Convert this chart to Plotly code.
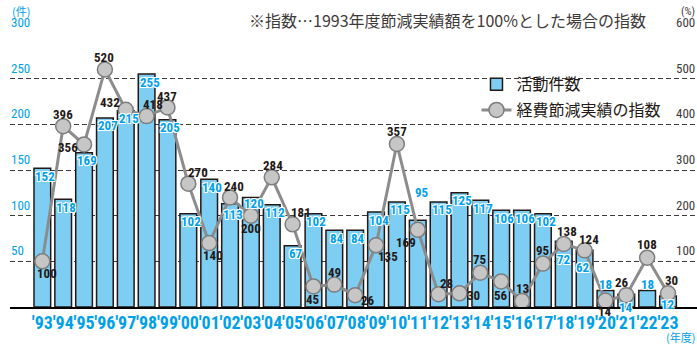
import plotly.graph_objects as go

# Fiscal years, activity counts (bars) and cost-saving index (line, 1993 = 100%)
years = ["′93", "′94", "′95", "′96", "′97", "′98", "′99", "′00", "′01", "′02",
         "′03", "′04", "′05", "′06", "′07", "′08", "′09", "′10", "′11", "′12",
         "′13", "′14", "′15", "′16", "′17", "′18", "′19", "′20", "′21", "′22", "′23"]
activity_counts = [152, 118, 169, 207, 215, 255, 205, 102, 140, 113,
                   120, 112, 67, 102, 84, 84, 104, 115, 95, 115,
                   125, 117, 106, 106, 102, 72, 62, 18, 14, 18, 12]
saving_index = [100, 396, 356, 520, 432, 418, 437, 270, 140, 240,
                200, 284, 181, 45, 49, 26, 135, 357, 169, 28,
                30, 75, 56, 13, 95, 138, 124, 14, 26, 108, 30]

left_ticks = [50, 100, 150, 200, 250, 300]
right_ticks = [100, 200, 300, 400, 500, 600]

# label placement (pixel offsets from the mark: dx right, dy down)
index_label_offsets = [(5, 12), (0, -12), (-16, 3), (-1, -12), (-16, -7), (6, -12), (0, -11),
                       (10, -11), (4, 12), (4, -11), (0, 13), (1, -12), (8, -12), (0, 13),
                       (0, -12), (13, 5), (12, 11), (0, -12), (-12, 13), (8, -11), (14, 2),
                       (0, -13), (0, 14), (0, -13), (0, -13), (3, -12), (4, -11), (0, 11),
                       (-4, -13), (0, -13), (3, -13)]
count_label_offsets = {8: (3, 8), 9: (3, 11), 10: (3, 6), 18: (4, -28), 25: (0, 18),
                       26: (-2, 17), 27: (0, -6), 28: (0, 13), 29: (0, -6), 30: (0, 8)}

BLUE = "#00a0e9"
BAR_FILL = "#7ecef4"
DARK = "#231815"
GREY_TEXT = "#3e3a39"
COND = "Roboto Condensed, DejaVu Sans Condensed, sans-serif"
JP = "Noto Sans CJK JP, sans-serif"

fig = go.Figure()
fig.add_trace(go.Bar(
    x=years, y=activity_counts, name="活動件数", legendgroup="count",
    marker=dict(color=BAR_FILL, line=dict(color=DARK, width=1.5)),
    yaxis="y", hoverinfo="skip",
))
fig.add_trace(go.Scatter(
    x=years, y=saving_index, name="経費節減実績の指数", legendgroup="index",
    mode="lines+markers",
    line=dict(color="#8c8c8c", width=3),
    marker=dict(size=15, color="#c6c6c6", line=dict(color="#7d7d7d", width=1.5)),
    yaxis="y2", hoverinfo="skip",
))

annotations = []
shadow = "1px 1px 0 #fff, -1px -1px 0 #fff, 1px -1px 0 #fff, -1px 1px 0 #fff"
for i, v in enumerate(activity_counts):
    dx, dy = count_label_offsets.get(i, (3, 8))
    annotations.append(dict(
        x=i, y=v, xref="x", yref="y", text=str(v), showarrow=False,
        xshift=dx, yshift=-dy, xanchor="center", yanchor="middle",
        font=dict(family=COND, size=13, color=BLUE, weight="bold", shadow=shadow),
    ))
for i, v in enumerate(saving_index):
    dx, dy = index_label_offsets[i]
    annotations.append(dict(
        x=i, y=v, xref="x", yref="y2", text=str(v), showarrow=False,
        xshift=dx, yshift=-dy, xanchor="center", yanchor="middle",
        font=dict(family=COND, size=13, color=DARK, weight="bold"),
    ))

# axis value labels sit just above their gridlines at both ends
for t in left_ticks:
    annotations.append(dict(
        x=0, xref="paper", xanchor="left", xshift=-1, y=t, yref="y", yanchor="bottom",
        yshift=1, text=str(t), showarrow=False,
        font=dict(family=COND, size=13, color=BLUE),
    ))
for t in right_ticks:
    annotations.append(dict(
        x=1, xref="paper", xanchor="right", xshift=0, y=t, yref="y2", yanchor="bottom",
        yshift=1, text=str(t), showarrow=False,
        font=dict(family=COND, size=13, color=GREY_TEXT),
    ))
annotations += [
    dict(x=0, xref="paper", xanchor="left", y=300, yref="y", yanchor="middle", yshift=22,
         text="(件)", showarrow=False, font=dict(family=JP, size=11, color=BLUE)),
    dict(x=1, xref="paper", xanchor="right", y=600, yref="y2", yanchor="middle", yshift=22,
         text="(%)", showarrow=False, font=dict(family=COND, size=11, color=GREY_TEXT)),
    dict(x=1, xref="paper", xanchor="right", y=0, yref="paper", yanchor="middle", yshift=-30,
         text="(年度)", showarrow=False, font=dict(family=JP, size=11, color=BLUE)),
    dict(x=0.345, xref="paper", xanchor="left", y=1, yref="paper", yanchor="middle", yshift=13,
         text="※指数…1993年度節減実績額を100%とした場合の指数", showarrow=False,
         font=dict(family=JP, size=16, color=GREY_TEXT)),
]

fig.update_layout(
    width=697, height=345,
    margin=dict(l=10, r=0, t=33, b=38, pad=0),
    paper_bgcolor="white", plot_bgcolor="white",
    bargap=0.2,
    showlegend=True,
    legend=dict(
        x=0.679, y=0.875, xanchor="left", yanchor="top",
        bgcolor="rgba(0,0,0,0)", font=dict(family=JP, size=16, color=DARK),
        traceorder="grouped", tracegroupgap=2, itemwidth=30,
    ),
    xaxis=dict(
        type="category", range=[-1.55, 31.39], showgrid=False,
        tickmode="array", tickvals=years, ticktext=years,
        showline=True, linecolor="#000", linewidth=1.5,
        ticks="", tickangle=0, ticklabelstandoff=-1,
        tickfont=dict(family=COND, size=18, color=BLUE, weight="bold"),
        fixedrange=True,
    ),
    yaxis=dict(
        range=[0, 300], tickvals=left_ticks, showticklabels=False,
        showgrid=True, gridcolor=GREY_TEXT, gridwidth=1, griddash="5px,3px",
        zeroline=False, fixedrange=True,
    ),
    yaxis2=dict(
        range=[0, 600], overlaying="y", side="right", showticklabels=False,
        showgrid=False, zeroline=False, fixedrange=True,
    ),
    annotations=annotations,
)

fig.write_html("out.html")
